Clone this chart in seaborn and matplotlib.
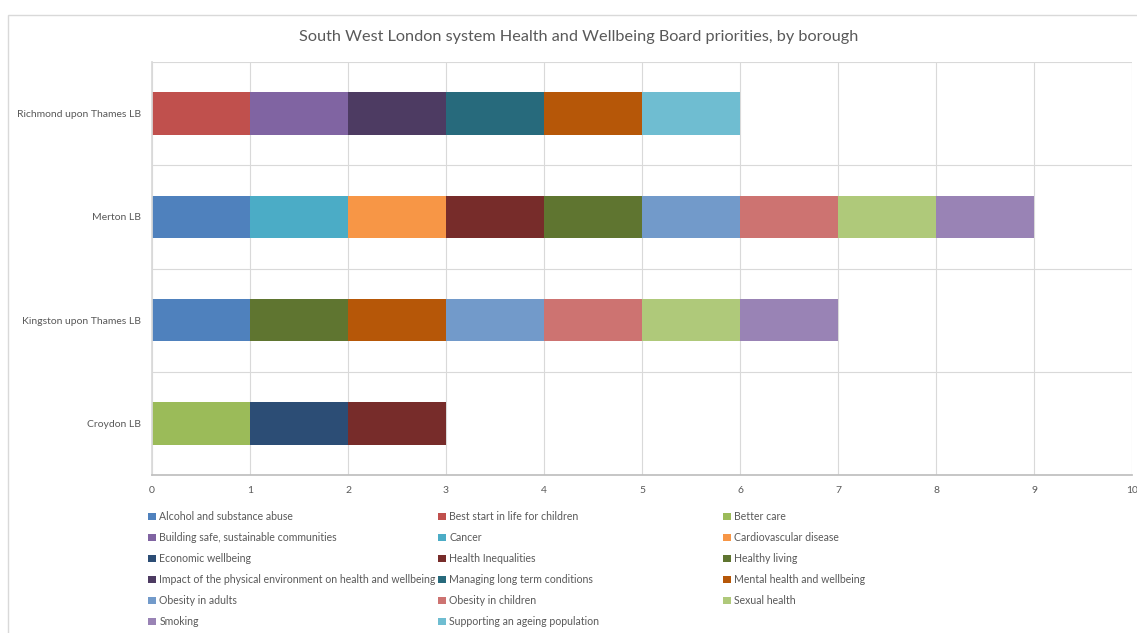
import matplotlib
matplotlib.use("Agg")
import matplotlib.pyplot as plt
from matplotlib.patches import Patch, Rectangle
import pandas as pd
import seaborn as sns


BOROUGHS = ["Richmond upon Thames LB", "Merton LB", "Kingston upon Thames LB", "Croydon LB"]

PRIORITIES = [
    "Alcohol and substance abuse",
    "Best start in life for children",
    "Better care",
    "Building safe, sustainable communities",
    "Cancer",
    "Cardiovascular disease",
    "Economic wellbeing",
    "Health Inequalities",
    "Healthy living",
    "Impact of the physical environment on health and wellbeing",
    "Managing long term conditions",
    "Mental health and wellbeing",
    "Obesity in adults",
    "Obesity in children",
    "Sexual health",
    "Smoking",
    "Supporting an ageing population",
]

COLORS = [
    "#4F81BD", "#C0504D", "#9BBB59", "#8064A2", "#4BACC6", "#F79646",
    "#2C4D75", "#772C2A", "#5F7530", "#4D3B62", "#276A7C", "#B65708",
    "#729ACA", "#CD7371", "#AFC97A", "#9983B5", "#6FBDD1",
]

# one value per priority, same order as PRIORITIES
RICHMOND = [0, 1, 0, 1, 0, 0, 0, 0, 0, 1, 1, 1, 0, 0, 0, 0, 1]
MERTON = [1, 0, 0, 0, 1, 1, 0, 1, 1, 0, 0, 0, 1, 1, 1, 1, 0]
KINGSTON = [1, 0, 0, 0, 0, 0, 0, 0, 1, 0, 0, 1, 1, 1, 1, 1, 0]
CROYDON = [0, 0, 1, 0, 0, 0, 1, 1, 0, 0, 0, 0, 0, 0, 0, 0, 0]

TXT = "#595959"
GRID = "#d9d9d9"


def main():
    df = pd.DataFrame(
        {BOROUGHS[0]: RICHMOND, BOROUGHS[1]: MERTON, BOROUGHS[2]: KINGSTON, BOROUGHS[3]: CROYDON},
        index=PRIORITIES,
    )
    cum = df.cumsum(axis=0)

    sns.set_theme(style="white")
    plt.rcParams["font.family"] = ["Lato", "DejaVu Sans"]

    fig = plt.figure(figsize=(11.37, 6.33), dpi=100)
    ax = fig.add_axes([152 / 1137, 1 - 475 / 633, 980 / 1137, 413 / 633])

    # stacked bars: draw cumulative totals back to front
    for p, c in reversed(list(zip(PRIORITIES, COLORS))):
        sns.barplot(x=cum.loc[p].values, y=BOROUGHS, order=BOROUGHS, color=c,
                    saturation=1, width=0.41, errorbar=None, orient="h", ax=ax, linewidth=0)

    ax.set_xlim(0, 10)
    ax.set_ylim(3.5, -0.5)
    ax.set_xticks(range(11))
    ax.set_yticks([-0.5, 0.5, 1.5, 2.5, 3.5], minor=True)
    ax.set_axisbelow(True)
    ax.xaxis.grid(True, color=GRID, lw=0.8)
    ax.yaxis.grid(True, which="minor", color=GRID, lw=0.8)
    ax.yaxis.grid(False, which="major")
    ax.tick_params(which="both", length=0, colors=TXT, labelsize=7.5)
    ax.tick_params(axis="y", pad=8)
    ax.tick_params(axis="x", pad=8)
    ax.set_xlabel("")
    ax.set_ylabel("")
    for s in ["top", "right"]:
        ax.spines[s].set_visible(False)
    ax.spines["left"].set_color(GRID)
    ax.spines["bottom"].set_color("#bfbfbf")

    fig.text(579 / 1137, 1 - 37 / 633, "South West London system Health and Wellbeing Board priorities, by borough",
             ha="center", va="center", color=TXT, fontsize=11.7)

    # legend laid out row by row in three columns
    col_x = [143 / 1137, 433 / 1137, 718 / 1137]
    for k, x in enumerate(col_x):
        idx = list(range(k, len(PRIORITIES), 3))
        handles = [Patch(facecolor=COLORS[i], edgecolor="none") for i in idx]
        labels = [PRIORITIES[i] for i in idx]
        fig.legend(handles, labels, loc="upper left", bbox_to_anchor=(x, 1 - 506 / 633),
                   frameon=False, borderpad=0, fontsize=7.6, labelcolor=TXT,
                   handlelength=0.7, handleheight=0.7, handletextpad=0.35, labelspacing=0.95)

    fig.patches.append(Rectangle((8 / 1137, -0.1), 1.2, 1.1 - 15 / 633, transform=fig.transFigure,
                                 fill=False, edgecolor=GRID, lw=1))

    fig.savefig("out.png", dpi=100)
    plt.close(fig)


if __name__ == "__main__":
    main()
